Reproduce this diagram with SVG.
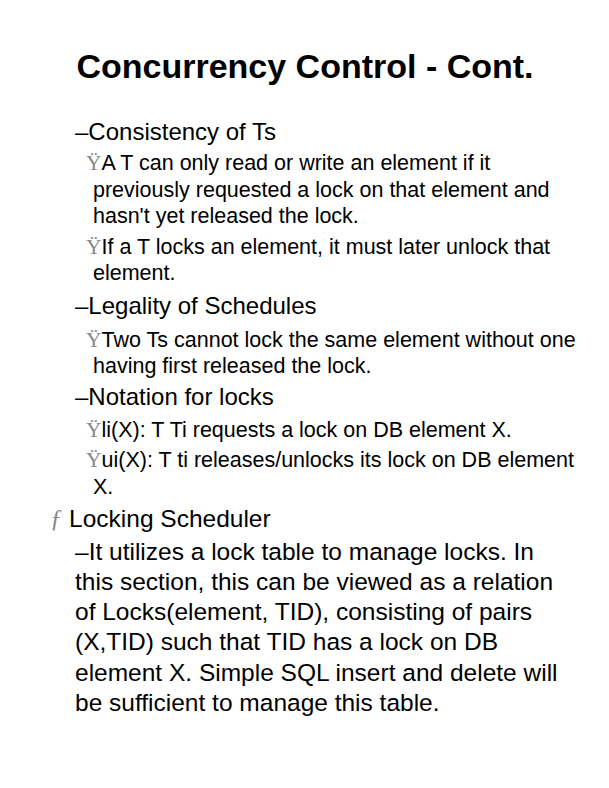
<svg xmlns="http://www.w3.org/2000/svg" width="609" height="788" viewBox="0 0 609 788">
<style>
text{font-family:"Liberation Sans",Arial,sans-serif;fill:#000}
.t{font-size:34px;font-weight:bold}
.l1{font-size:24px}
.l3{font-size:24.5px}
.l2{font-size:21.5px}
.b{font-family:"Liberation Serif",serif;fill:#888}
</style>
<rect width="609" height="788" fill="#fff"/>
<text class="t" x="305" y="78" text-anchor="middle">Concurrency Control - Cont.</text>
<text class="l1" x="75" y="140">–Consistency of Ts</text>
<text class="l2" x="86" y="170"><tspan class="b">Ÿ</tspan>A T can only read or write an element if it</text>
<text class="l2" x="93" y="197">previously requested a lock on that element and</text>
<text class="l2" x="93" y="223">hasn't yet released the lock.</text>
<text class="l2" x="86" y="254"><tspan class="b">Ÿ</tspan>If a T locks an element, it must later unlock that</text>
<text class="l2" x="93" y="280">element.</text>
<text class="l1" x="75" y="314">–Legality of Schedules</text>
<text class="l2" x="86" y="347"><tspan class="b">Ÿ</tspan>Two Ts cannot lock the same element without one</text>
<text class="l2" x="93" y="373">having first released the lock.</text>
<text class="l1" x="75" y="405">–Notation for locks</text>
<text class="l2" x="86" y="437"><tspan class="b">Ÿ</tspan>li(X): T Ti requests a lock on DB element X.</text>
<text class="l2" x="86" y="467"><tspan class="b">Ÿ</tspan>ui(X): T ti releases/unlocks its lock on DB element</text>
<text class="l2" x="93" y="494">X.</text>
<text class="l3" x="50" y="527"><tspan class="b" font-style="italic">ƒ</tspan> Locking Scheduler</text>
<text class="l3" x="75" y="560">–It utilizes a lock table to manage locks.  In</text>
<text class="l3" x="75" y="590">this section, this can be viewed as a relation</text>
<text class="l3" x="75" y="620">of Locks(element, TID), consisting of pairs</text>
<text class="l3" x="75" y="650">(X,TID) such that TID has a lock on DB</text>
<text class="l3" x="75" y="681">element X.  Simple SQL insert and delete will</text>
<text class="l3" x="75" y="711">be sufficient to manage this table.</text>
</svg>
